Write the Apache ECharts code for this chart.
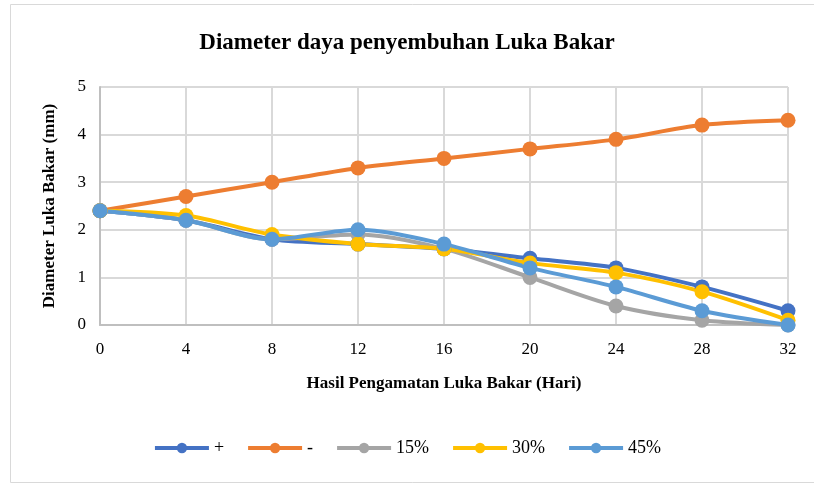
<!DOCTYPE html>
<html style="height: 100%">
<head>
    <meta charset="utf-8">
    <script src="https://cdn.jsdelivr.net/npm/echarts@6/dist/echarts.min.js"></script>
</head>
<body style="height: 100%; margin: 0">
    <div id="main" style="width: 814px; height: 486px"></div>
    <script type="text/javascript">
        var hari = ['0', '4', '8', '12', '16', '20', '24', '28', '32'];
        var kontrolPositif = [2.4, 2.2, 1.8, 1.7, 1.6, 1.4, 1.2, 0.8, 0.3];
        var kontrolNegatif = [2.4, 2.7, 3.0, 3.3, 3.5, 3.7, 3.9, 4.2, 4.3];
        var dosis15 = [2.4, 2.2, 1.8, 1.9, 1.6, 1.0, 0.4, 0.1, 0];
        var dosis30 = [2.4, 2.3, 1.9, 1.7, 1.6, 1.3, 1.1, 0.7, 0.1];
        var dosis45 = [2.4, 2.2, 1.8, 2.0, 1.7, 1.2, 0.8, 0.3, 0];

        var font = 'Liberation Serif';
        var chart = echarts.init(document.getElementById('main'));

        function seri(name, data, color) {
            return {
                name: name,
                type: 'line',
                data: data,
                smooth: 0.3,
                symbol: 'circle',
                symbolSize: 15,
                itemStyle: { color: color },
                lineStyle: { width: 4, color: color }
            };
        }

        var option = {
            animation: false,
            graphic: [{
                type: 'rect',
                shape: { x: 10.5, y: 4.5, width: 810, height: 478 },
                style: { fill: 'none', stroke: '#d9d9d9', lineWidth: 1 }
            }],
            title: {
                text: 'Diameter daya penyembuhan Luka Bakar',
                left: 'center',
                top: 27,
                textStyle: { fontFamily: font, fontSize: 23, fontWeight: 'bold', color: '#000' }
            },
            legend: {
                bottom: 24,
                left: 'center',
                itemWidth: 54,
                itemHeight: 13,
                itemGap: 22,
                lineStyle: { width: 4 },
                textStyle: { fontFamily: font, fontSize: 18, color: '#000' },
                data: ['+', '-', '15%', '30%', '45%']
            },
            grid: { left: 100, right: 26, top: 87, bottom: 161 },
            xAxis: {
                type: 'category',
                data: hari,
                boundaryGap: false,
                name: 'Hasil Pengamatan Luka Bakar (Hari)',
                nameLocation: 'middle',
                nameGap: 50,
                nameTextStyle: { fontFamily: font, fontSize: 17, fontWeight: 'bold', color: '#000' },
                axisLine: { lineStyle: { color: '#bfbfbf', width: 2 } },
                axisTick: { show: false },
                axisLabel: { fontFamily: font, fontSize: 17, color: '#000', margin: 16 },
                splitLine: { show: true, lineStyle: { color: '#d9d9d9', width: 2 } }
            },
            yAxis: {
                type: 'value',
                min: 0,
                max: 5,
                interval: 1,
                name: 'Diameter Luka Bakar (mm)',
                nameLocation: 'middle',
                nameGap: 42,
                nameTextStyle: { fontFamily: font, fontSize: 17, fontWeight: 'bold', color: '#000' },
                axisLine: { show: true, lineStyle: { color: '#bfbfbf', width: 2 } },
                axisLabel: { fontFamily: font, fontSize: 17, color: '#000', margin: 14 },
                splitLine: { lineStyle: { color: '#d9d9d9', width: 2 } }
            },
            series: [
                seri('+', kontrolPositif, '#4472C4'),
                seri('-', kontrolNegatif, '#ED7D31'),
                seri('15%', dosis15, '#A5A5A5'),
                seri('30%', dosis30, '#FFC000'),
                seri('45%', dosis45, '#5B9BD5')
            ]
        };
        chart.setOption(option);
    </script>
</body>
</html>
